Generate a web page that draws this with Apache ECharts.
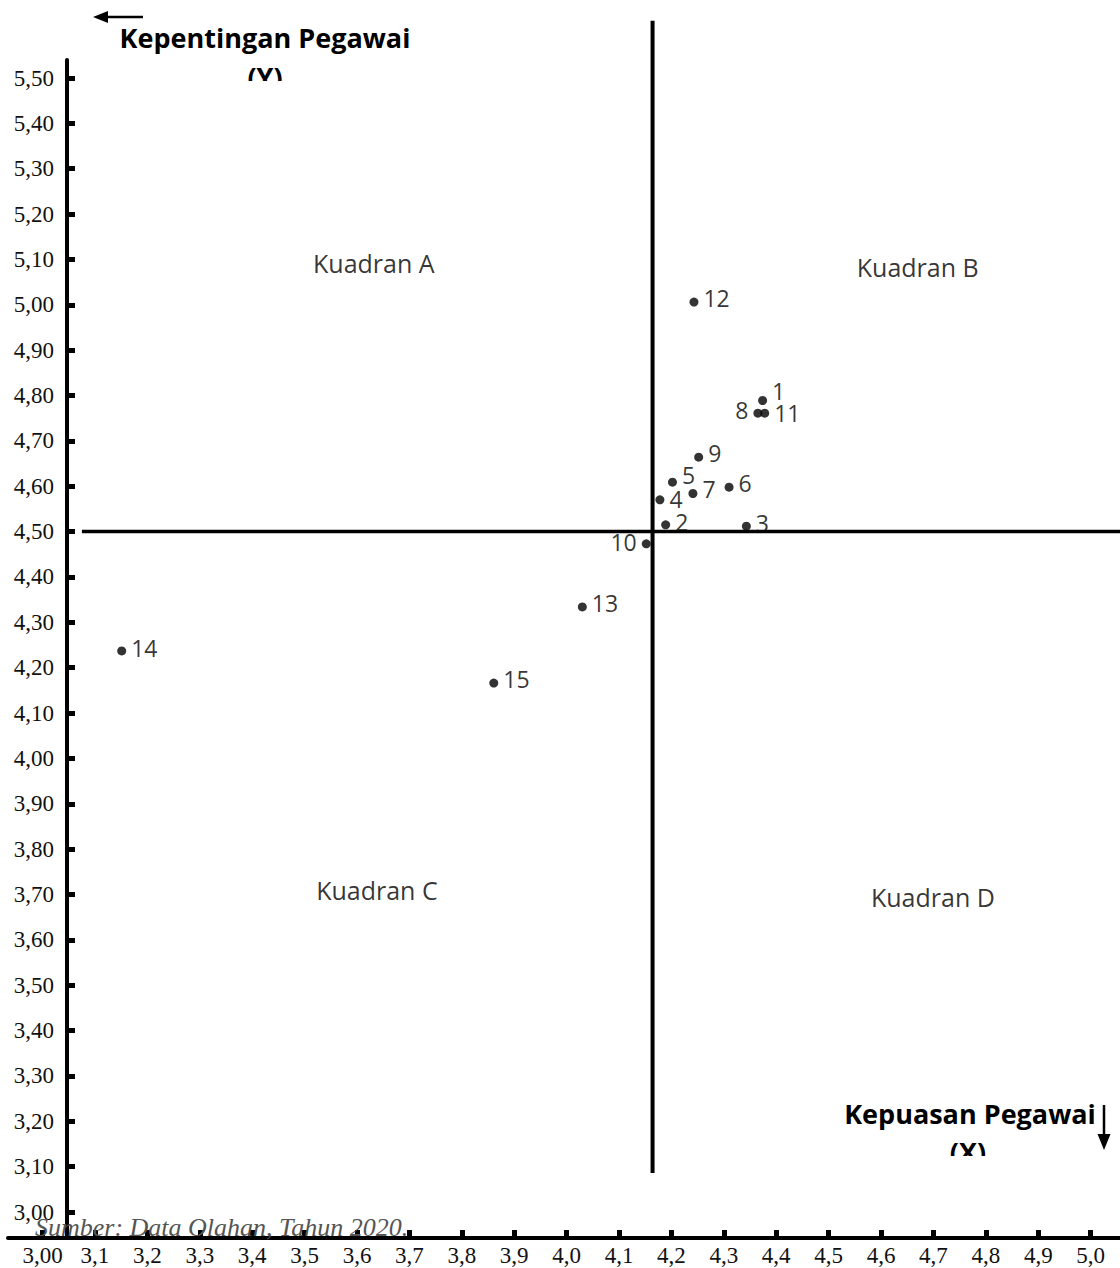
<!DOCTYPE html>
<html><head><meta charset="utf-8">
<script src="https://cdn.jsdelivr.net/npm/echarts@6/dist/echarts.min.js"></script>
<style>html,body{margin:0;padding:0;background:#fff}#c{width:1120px;height:1268px}</style>
</head><body><div id="c"></div>
<script>
// ---- data ----
const pointIds = ['1','2','3','4','5','6','7','8','9','10','11','12','13','14','15'];
const xValues  = [4.374,4.189,4.343,4.178,4.202,4.310,4.241,4.365,4.252,4.152,4.378,4.243,4.030,3.151,3.861];
const yValues  = [4.789,4.515,4.512,4.570,4.609,4.598,4.584,4.761,4.664,4.473,4.761,5.006,4.334,4.237,4.166];
const labelSide = ['right','right','right','right','right','right','right','left','right','left','right','right','right','right','right'];
const labelLift = [-10,-3,-3,-1,-7,-4,-5,-3,-4,-2,0,-4,-4,-3,-4];

const xTickValues = [3.0,3.1,3.2,3.3,3.4,3.5,3.6,3.7,3.8,3.9,4.0,4.1,4.2,4.3,4.4,4.5,4.6,4.7,4.8,4.9,5.0];
const xTickLabels = ['3,00','3,1','3,2','3,3','3,4','3,5','3,6','3,7','3,8','3,9','4,0','4,1','4,2','4,3','4,4','4,5','4,6','4,7','4,8','4,9','5,0'];
const yTickValues = [3.0,3.1,3.2,3.3,3.4,3.5,3.6,3.7,3.8,3.9,4.0,4.1,4.2,4.3,4.4,4.5,4.6,4.7,4.8,4.9,5.0,5.1,5.2,5.3,5.4,5.5];
const yTickLabels = ['3,00','3,10','3,20','3,30','3,40','3,50','3,60','3,70','3,80','3,90','4,00','4,10','4,20','4,30','4,40','4,50','4,60','4,70','4,80','4,90','5,00','5,10','5,20','5,30','5,40','5,50'];

const meanX = 4.164, meanY = 4.50;
const vLineYRange = [3.086, 5.626];
const hLineXRange = [3.075, 5.06];

const quadrantNames = ['Kuadran A','Kuadran B','Kuadran C','Kuadran D'];
const quadrantX = [3.632, 4.670, 3.638, 4.699];
const quadrantY = [5.092, 5.083, 3.710, 3.695];

const xRange = [2.934, 5.056];
const yRange = [2.9427, 5.5397];

// ---- chart ----
function lookup(vals, labels) {
  return function (v) {
    const i = vals.findIndex(t => Math.abs(t - v) < 1e-6);
    return i >= 0 ? labels[i] : '';
  };
}
const chart = echarts.init(document.getElementById('c'), null, {renderer: 'svg'});
const black = '#000';
const option = {
  animation: false,
  backgroundColor: '#fff',
  grid: {left: 8, right: 0, top: 60, bottom: 30, containLabel: false},
  xAxis: {
    type: 'value', min: xRange[0], max: xRange[1],
    axisLine: {show: true, onZero: false, lineStyle: {color: black, width: 4}},
    axisTick: {show: true, inside: true, length: 8, customValues: xTickValues, lineStyle: {color: black, width: 5}},
    axisLabel: {customValues: xTickValues, formatter: lookup(xTickValues, xTickLabels), fontFamily: 'Liberation Serif', fontSize: 23, color: '#111', margin: 6, hideOverlap: false, showMinLabel: true, showMaxLabel: true},
    splitLine: {show: false}
  },
  yAxis: {
    type: 'value', min: yRange[0], max: yRange[1], offset: -59,
    axisLine: {show: true, onZero: false, lineStyle: {color: black, width: 4}},
    axisTick: {show: true, inside: true, length: 8, customValues: yTickValues, lineStyle: {color: black, width: 5}},
    axisLabel: {customValues: yTickValues, formatter: lookup(yTickValues, yTickLabels), fontFamily: 'Liberation Serif', fontSize: 23, lineHeight: 20, color: '#111', margin: 13, hideOverlap: false, showMinLabel: true, showMaxLabel: true},
    splitLine: {show: false}
  },
  series: [
    {
      type: 'line', silent: true, clip: false, symbol: 'none',
      data: [[meanX, vLineYRange[0]], [meanX, vLineYRange[1]]],
      lineStyle: {color: black, width: 4}, z: 3
    },
    {
      type: 'line', silent: true, clip: false, symbol: 'none',
      data: [[hLineXRange[0], meanY], [hLineXRange[1], meanY]],
      lineStyle: {color: black, width: 3.5}, z: 3
    },
    {
      type: 'scatter', symbol: 'circle', symbolSize: 9, z: 5,
      itemStyle: {color: black},
      data: pointIds.map((id, i) => ({
        value: [xValues[i], yValues[i]], name: id,
        label: {show: true, position: labelSide[i], distance: 5, offset: [0, labelLift[i]], formatter: id,
          fontFamily: 'Open Sans', fontSize: 23, lineHeight: 17, color: black}
      }))
    },
    {
      type: 'scatter', symbolSize: 1, silent: true, z: 4,
      itemStyle: {color: 'rgba(0,0,0,0)'},
      label: {show: true, position: 'inside', formatter: p => p.name, fontFamily: 'Open Sans', fontSize: 25, color: black},
      data: quadrantNames.map((n, i) => ({name: n, value: [quadrantX[i], quadrantY[i]]}))
    }
  ],
  graphic: [
    {type: 'text', z: 10, style: {x: 265, y: 37, text: 'Kepentingan Pegawai', font: 'bold 27px "Open Sans"', fill: black, align: 'center', verticalAlign: 'middle'}},
    {type: 'text', z: 10, style: {x: 265, y: 76, text: '(Y)', font: 'bold 27px "Open Sans"', fill: black, align: 'center', verticalAlign: 'middle'}},
    {type: 'rect', z: 11, shape: {x: 235, y: 81, width: 60, height: 24}, style: {fill: '#fff'}},
    {type: 'line', z: 10, shape: {x1: 104, y1: 17, x2: 143, y2: 17}, style: {stroke: black, lineWidth: 2.5}},
    {type: 'polygon', z: 10, shape: {points: [[93, 17], [108, 11], [108, 23]]}, style: {fill: black}},
    {type: 'text', z: 10, style: {x: 970, y: 1113, text: 'Kepuasan Pegawai', font: 'bold 27px "Open Sans"', fill: black, align: 'center', verticalAlign: 'middle'}},
    {type: 'text', z: 10, style: {x: 968, y: 1151, text: '(X)', font: 'bold 27px "Open Sans"', fill: black, align: 'center', verticalAlign: 'middle'}},
    {type: 'rect', z: 11, shape: {x: 935, y: 1156, width: 66, height: 24}, style: {fill: '#fff'}},
    {type: 'line', z: 10, shape: {x1: 1104, y1: 1105, x2: 1104, y2: 1138}, style: {stroke: black, lineWidth: 2.5}},
    {type: 'polygon', z: 10, shape: {points: [[1104, 1150], [1097.5, 1134], [1110.5, 1134]]}, style: {fill: black}},
    {type: 'text', z: 12, style: {x: 35, y: 1227, text: 'Sumber: Data Olahan, Tahun 2020.', font: 'italic 26px "Liberation Serif"', lineHeight: 20, fill: '#555', align: 'left', verticalAlign: 'middle'}}
  ]
};
chart.setOption(option);
</script>
</body></html>
